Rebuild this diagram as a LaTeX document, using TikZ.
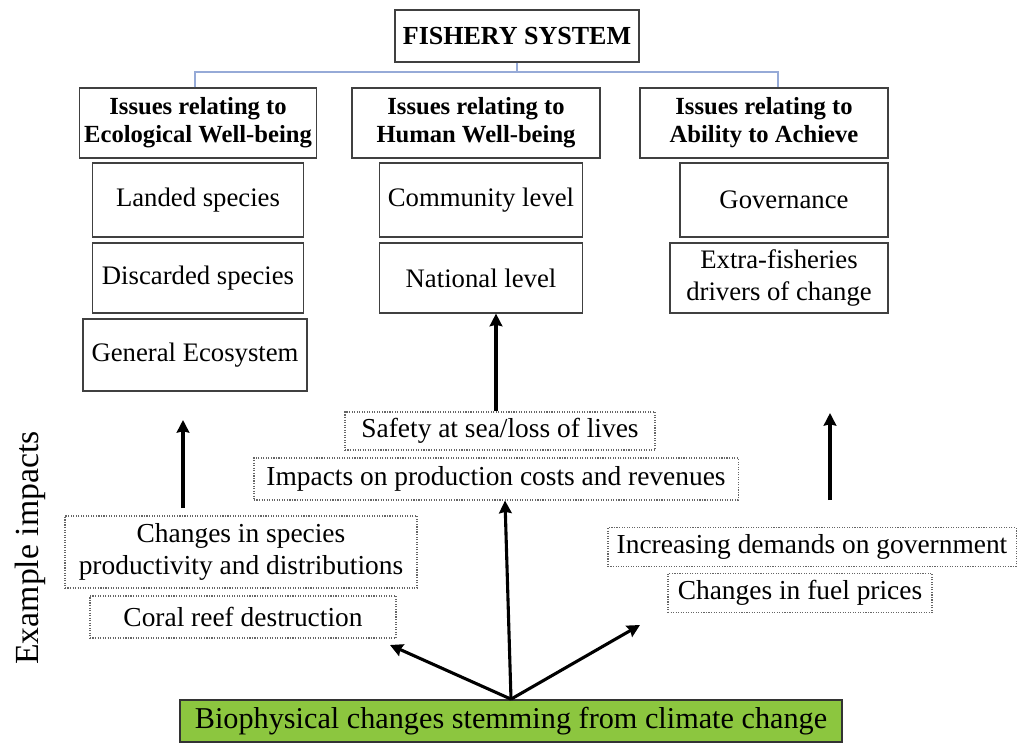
\documentclass[tikz,border=0pt]{standalone}
\usepackage{fontspec}
\setmainfont{Liberation Serif}
\usetikzlibrary{arrows.meta}
\definecolor{biogreen}{RGB}{140,198,63}
\definecolor{linkblue}{RGB}{150,170,215}
\tikzset{
  issue/.style={draw=black!75, thick, fill=white, align=center, font=\fontsize{17.5}{20}\selectfont\bfseries},
  item/.style={draw=black!75, thick, align=center, font=\fontsize{19}{23}\selectfont},
  impact/.style={draw=black!60, densely dotted, thick, align=center, font=\fontsize{19.5}{23}\selectfont},
  up/.style={-{Stealth[length=9pt, width=9pt, inset=1pt]}, line width=2.2pt}
}
\begin{document}
\begin{tikzpicture}[x=0.025cm, y=-0.025cm]
  \useasboundingbox (0,0) rectangle (1019,747);

  % top of the tree
  \node[issue, font=\fontsize{18.5}{22}\selectfont\bfseries, minimum width=6.1cm, minimum height=1.3cm] (fish) at (517,36) {FISHERY SYSTEM};
  \node[issue, minimum width=5.78cm, minimum height=1.75cm] (eco) at (198,123) {Issues relating to\\Ecological Well-being};
  \node[issue, minimum width=6.2cm, minimum height=1.75cm] (hum) at (476,123) {Issues relating to\\Human Well-being};
  \node[issue, minimum width=6.2cm, minimum height=1.75cm] (abl) at (764,123) {Issues relating to\\Ability to Achieve};

  \coordinate (bus) at (517,72);
  \draw[linkblue, thick] (fish.south) -- (bus);
  \draw[linkblue, thick] (eco.north -| 195,0) |- (bus) -| (abl.north -| 778,0);

  % sub-items
  \node[item, minimum width=5.28cm, minimum height=1.85cm] (land) at (198,200) {Landed species};
  \node[item, minimum width=5.28cm, minimum height=1.75cm] (disc) at (198,278) {Discarded species};
  \node[item, minimum width=5.6cm, minimum height=1.8cm] (geco) at (195,355) {General Ecosystem};
  \node[item, minimum width=5.08cm, minimum height=1.85cm] (comm) at (481,200) {Community level};
  \node[item, minimum width=5.08cm, minimum height=1.75cm] (natl) at (481,278) {National level};
  \node[item, minimum width=5.2cm, minimum height=1.85cm] (gov) at (784,200) {Governance};
  \node[item, minimum width=5.45cm, minimum height=1.75cm] (xtra) at (779,278) {Extra-fisheries\\drivers of change};

  % example impacts
  \node[impact, minimum width=7.75cm, minimum height=0.95cm] (safe) at (500,431) {Safety at sea/loss of lives};
  \node[impact, minimum width=12.1cm, minimum height=1.05cm] (cost) at (496,479) {Impacts on production costs and revenues};
  \node[impact, minimum width=8.8cm, minimum height=1.8cm] (prod) at (241,552) {Changes in species\\productivity and distributions};
  \node[impact, minimum width=7.65cm, minimum height=1.05cm] (coral) at (243,617) {Coral reef destruction};
  \node[impact, minimum width=10.2cm, minimum height=0.97cm] (gvt) at (812,547) {Increasing demands on government};
  \node[impact, minimum width=6.6cm, minimum height=0.97cm] (fuel) at (800,593) {Changes in fuel prices};

  \node[draw=black!80, very thick, fill=biogreen, minimum width=16.55cm, minimum height=1.05cm,
        font=\fontsize{21.5}{25}\selectfont] (bio) at (511,721) {Biophysical changes stemming from climate change};

  \node[rotate=90, font=\fontsize{24}{28}\selectfont] (ex) at (30,548) {Example impacts};

  % arrows
  \draw[up] (183,508) -- (183,420);
  \draw[up] (safe.north -| 496,0) -- (natl.south -| 496,0);
  \draw[up] (830,500) -- (830,413);
  \draw[up] (bio.north) -- (390,645);
  \draw[up] (bio.north) -- (cost.south -| 505,0);
  \draw[up] (bio.north) -- (640,625);
\end{tikzpicture}
\end{document}
